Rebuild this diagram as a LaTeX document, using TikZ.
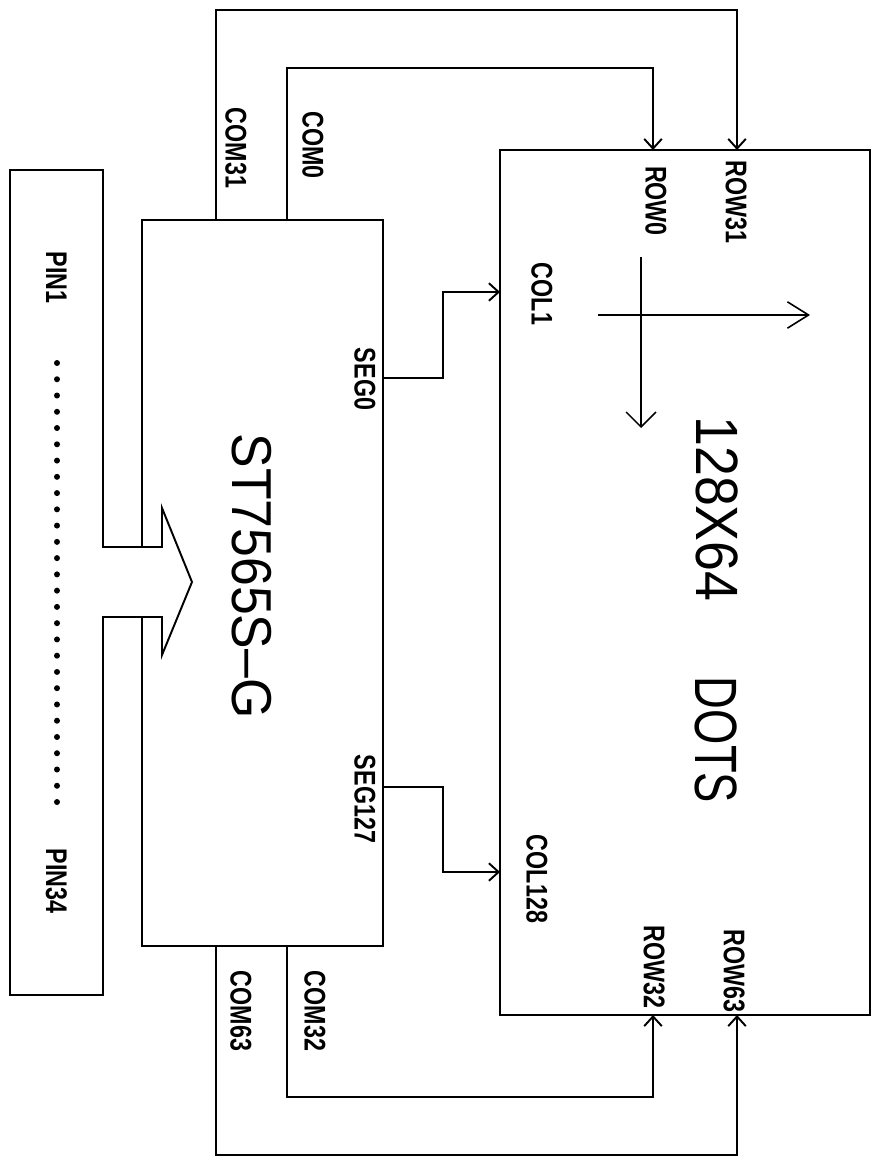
\documentclass[tikz,border=0pt]{standalone}
\usepackage{fontspec}
\usetikzlibrary{arrows.meta}
\newfontfamily\labelfont[FakeStretch=0.78]{Liberation Sans}
\newfontfamily\chipfont[FakeStretch=0.92]{Liberation Sans}
\newfontfamily\dotsfont[FakeStretch=0.9]{Liberation Sans}
\newfontfamily\wordfont[FakeStretch=0.76]{Liberation Sans}

\begin{document}
\begin{tikzpicture}[x=0.02cm, y=-0.02cm, line width=1.1pt,
    >={Straight Barb[length=5.5pt,width=10pt]},
    pinlabel/.style={font=\labelfont\bfseries\fontsize{17pt}{17pt}\selectfont, rotate=-90, inner sep=0pt},
    chiplabel/.style={font=\chipfont\fontsize{32pt}{32pt}\selectfont, rotate=-90, inner sep=0pt},
    dotlabel/.style={font=\dotsfont\fontsize{34pt}{34pt}\selectfont, rotate=-90, inner sep=0pt}]
    \useasboundingbox (0,0) rectangle (873,1158);

    % connector block with the bus arrow
    \draw (103,547) -- (103,170) -- (10,170) -- (10,995) -- (103,995) -- (103,617)
        -- (162,617) -- (162,655) -- (192,582) -- (162,508) -- (162,547) -- cycle;
    \foreach \i in {0,...,27}
        \fill (57,363+\i*16.26) circle[radius=0.06cm];
    \node[pinlabel] (pin1) at (56.5,277.5) {PIN1};
    \node[pinlabel] (pin34) at (56.5,881) {PIN34};

    % driver chip
    \draw (142,548) -- (142,220) -- (383,220) -- (383,946) -- (142,946) -- (142,617);
    \node[chiplabel] (chip) at (252,576) {ST7565S–G};

    % dot matrix
    \node[draw, minimum width=7.4cm, minimum height=17.3cm, inner sep=0pt] (lcd) at (685,582.5) {};
    \node[dotlabel] (size) at (717,509) {128X64};
    \node[dotlabel, font=\wordfont\fontsize{34pt}{34pt}\selectfont] (word) at (716,740) {DOTS};

    % pins
    \coordinate (com31) at (216,220);
    \coordinate (com0) at (287,220);
    \coordinate (com63) at (216,946);
    \coordinate (com32) at (287,946);
    \coordinate (seg0) at (383,378);
    \coordinate (seg127) at (383,787);
    \coordinate (row0) at (653,150);
    \coordinate (row31) at (737,150);
    \coordinate (row32) at (653,1015);
    \coordinate (row63) at (737,1015);
    \coordinate (col1) at (500,292);
    \coordinate (col128) at (500,872);

    \draw[->] (com31) -- ++(0,-210) -| (row31);
    \draw[->] (com0) -- ++(0,-152) -| (row0);
    \draw[->] (com32) -- ++(0,151) -| (row32);
    \draw[->] (com63) -- ++(0,209) -| (row63);
    \draw[->] (seg0) -- ++(60,0) |- (col1);
    \draw[->] (seg127) -- ++(60,0) |- (col128);

    \node[pinlabel] (lcom31) at (236,148) {COM31};
    \node[pinlabel] (lcom0) at (313,145) {COM0};
    \node[pinlabel] (lcom63) at (241,1011) {COM63};
    \node[pinlabel] (lcom32) at (315,1011) {COM32};
    \node[pinlabel] (lseg0) at (365,379) {SEG0};
    \node[pinlabel] (lseg127) at (365,799) {SEG127};
    \node[pinlabel] (lrow0) at (656,201) {ROW0};
    \node[pinlabel] (lrow31) at (736,202) {ROW31};
    \node[pinlabel] (lrow32) at (654,967) {ROW32};
    \node[pinlabel] (lrow63) at (734,971) {ROW63};
    \node[pinlabel] (lcol1) at (542,294) {COL1};
    \node[pinlabel] (lcol128) at (537,879) {COL128};

    % scan directions
    \coordinate (hscan-a) at (598,315);
    \coordinate (hscan-b) at (810,315);
    \coordinate (vscan-a) at (641,257);
    \coordinate (vscan-b) at (641,428);
    \draw[-{Straight Barb[length=12pt,width=15pt]}, line width=0.9pt] (hscan-a) -- (hscan-b);
    \draw[-{Straight Barb[length=8.5pt,width=17pt]}, line width=0.9pt] (vscan-a) -- (vscan-b);
\end{tikzpicture}
\end{document}
